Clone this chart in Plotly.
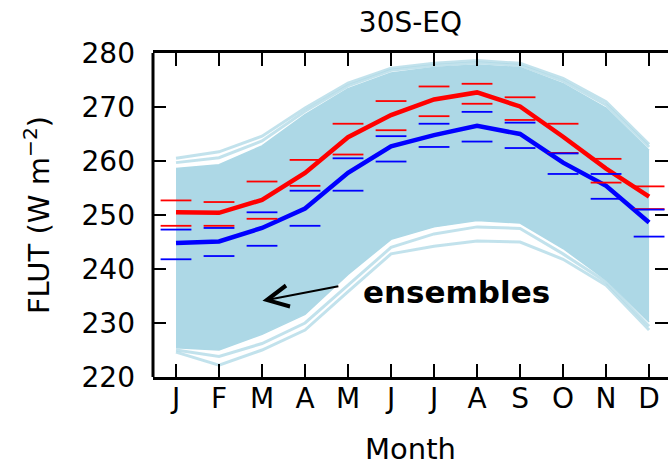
import plotly.graph_objects as go

months = [1, 2, 3, 4, 5, 6, 7, 8, 9, 10, 11, 12]
month_labels = ["J", "F", "M", "A", "M", "J", "J", "A", "S", "O", "N", "D"]
y_ticks = [220, 230, 240, 250, 260, 270, 280]

red_mean = [250.5, 250.4, 252.8, 257.8, 264.4, 268.5, 271.4, 272.7, 270.1, 264.5, 258.6, 253.4]
red_upper = [252.7, 252.4, 256.2, 260.2, 266.9, 271.1, 273.8, 274.3, 271.8, 266.9, 260.4, 255.3]
red_lower = [248.0, 248.0, 249.3, 255.4, 261.2, 265.7, 268.3, 270.6, 267.6, 261.5, 256.0, 251.1]

blue_mean = [244.8, 245.1, 247.6, 251.2, 257.8, 262.7, 264.8, 266.5, 265.0, 259.7, 255.4, 248.6]
blue_upper = [247.3, 247.6, 250.5, 254.5, 260.5, 264.6, 266.9, 269.1, 267.1, 261.4, 257.6, 251.0]
blue_lower = [241.8, 242.4, 244.3, 248.0, 254.5, 259.9, 262.6, 263.6, 262.4, 257.6, 253.0, 246.0]

ens_top1 = [260.5, 261.7, 264.6, 269.8, 274.4, 277.2, 278.1, 278.6, 278.1, 275.3, 271.0, 263.1]
ens_top2 = [259.7, 260.6, 263.7, 269.2, 273.9, 276.8, 277.7, 278.2, 277.7, 274.8, 270.4, 262.6]
band_top = [258.6, 259.3, 262.8, 268.6, 273.4, 276.3, 277.3, 277.8, 277.3, 274.3, 269.8, 262.0]
band_bottom = [225.4, 225.0, 227.9, 231.6, 239.0, 245.5, 247.8, 249.0, 248.5, 243.8, 238.0, 230.2]
ens_low2 = [225.0, 223.8, 226.2, 230.0, 237.0, 244.0, 246.5, 247.8, 247.5, 242.8, 237.6, 229.4]
ens_low1 = [224.6, 222.2, 225.0, 228.7, 235.8, 242.8, 244.2, 245.2, 245.0, 241.8, 237.0, 228.7]

LB = "#ADD8E6"
LB_LINE = "rgba(173,216,230,0.75)"
FONT = "DejaVu Sans"

fig = go.Figure()

# ensemble band
fig.add_trace(go.Scatter(x=months, y=band_bottom, mode="lines",
                         line=dict(color=LB, width=1.5), showlegend=False, hoverinfo="skip"))
fig.add_trace(go.Scatter(x=months, y=band_top, mode="lines", fill="tonexty",
                         fillcolor=LB, line=dict(color=LB, width=1.5),
                         showlegend=False, hoverinfo="skip"))
for ens in (ens_top1, ens_top2, ens_low2, ens_low1):
    fig.add_trace(go.Scatter(x=months, y=ens, mode="lines",
                             line=dict(color=LB_LINE, width=3),
                             showlegend=False, hoverinfo="skip"))

# mean lines
fig.add_trace(go.Scatter(x=months, y=red_mean, mode="lines",
                         line=dict(color="#FF0000", width=4.5), showlegend=False))
fig.add_trace(go.Scatter(x=months, y=blue_mean, mode="lines",
                         line=dict(color="#0000FF", width=4.5), showlegend=False))

# error caps
for vals, col in ((red_upper, "#FF0000"), (red_lower, "#FF0000"),
                  (blue_upper, "#0000FF"), (blue_lower, "#0000FF")):
    fig.add_trace(go.Scatter(x=months, y=vals, mode="markers",
                             marker=dict(symbol="line-ew", size=22,
                                         line=dict(color=col, width=1.8)),
                             showlegend=False))

fig.add_annotation(x=3.01, y=234.1, ax=4.81, ay=236.85, xref="x", yref="y",
                   axref="x", ayref="y", text="", showarrow=True,
                   arrowhead=5, arrowsize=2.1, arrowwidth=2, arrowcolor="black")
fig.add_annotation(x=5.30, y=235.7, xref="x", yref="y", text="<b>ensembles</b>",
                   showarrow=False, xanchor="left", yanchor="middle",
                   font=dict(family=FONT, size=31, color="black"))

# left spine
fig.add_shape(type="line", xref="paper", yref="paper", x0=0, x1=0, y0=0, y1=1,
              line=dict(color="black", width=3))

fig.update_layout(
    width=668, height=466,
    margin=dict(l=153, r=0, t=53, b=89),
    paper_bgcolor="white", plot_bgcolor="white",
    title=dict(text="30S-EQ", x=0.6145, xanchor="center", y=0.952, yanchor="middle",
               font=dict(family=FONT, size=28, color="black")),
    font=dict(family=FONT, color="black"),
)
fig.update_xaxes(range=[0.465, 12.44], tickvals=months, ticktext=month_labels,
                 ticks="inside", ticklen=13, tickwidth=2, tickcolor="black",
                 showline=True, linecolor="black", linewidth=3, mirror="ticks",
                 showgrid=False, zeroline=False,
                 tickfont=dict(family=FONT, size=28, color="black"),
                 ticklabelstandoff=-6,
                 title=dict(text="Month", standoff=26,
                            font=dict(family=FONT, size=29, color="black")))
fig.update_yaxes(range=[220, 280], tickvals=y_ticks,
                 ticks="inside", ticklen=13, tickwidth=2, tickcolor="black",
                 showline=False, mirror="ticks",
                 showgrid=False, zeroline=False,
                 tickfont=dict(family=FONT, size=28, color="black"),
                 ticklabelstandoff=17,
                 title=dict(text="FLUT (W m<sup>−2</sup>)", standoff=23,
                            font=dict(family=FONT, size=29, color="black")))

fig.write_html("out.html", config={"displayModeBar": False},
               post_script="document.body.style.margin='0';")
